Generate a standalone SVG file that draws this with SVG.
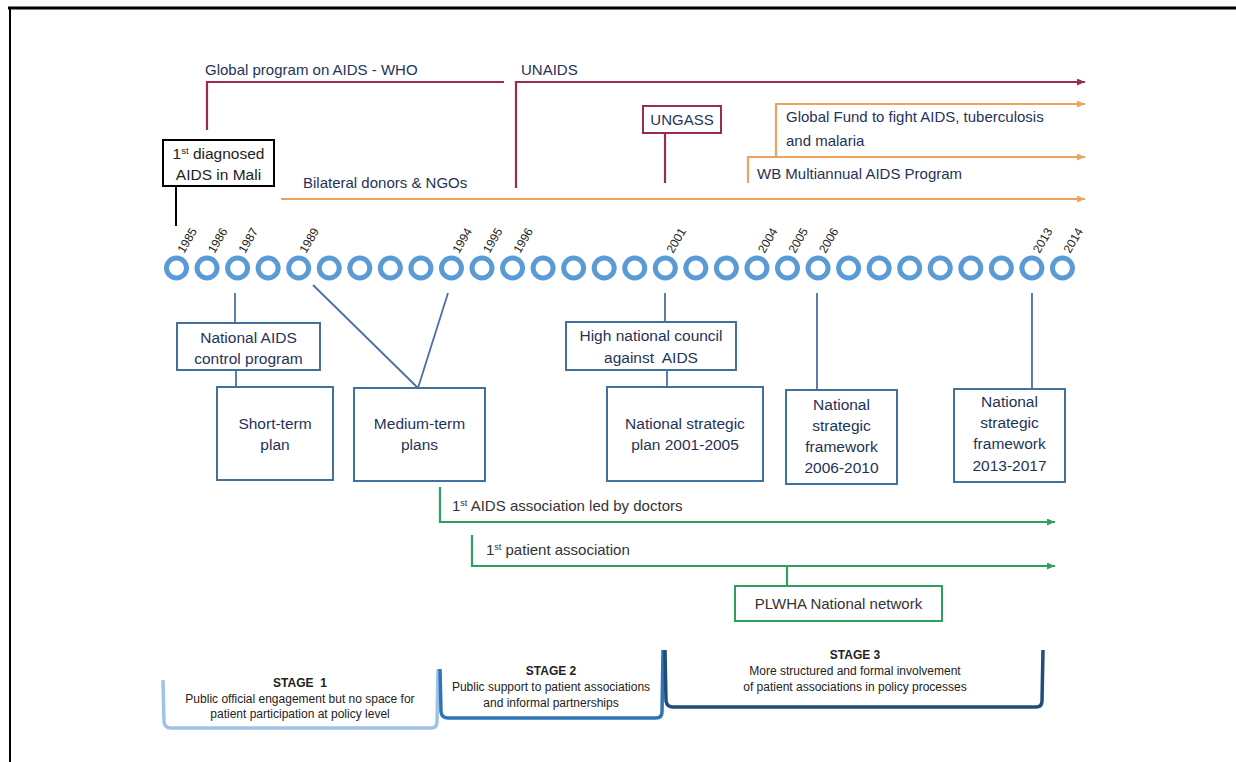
<svg xmlns="http://www.w3.org/2000/svg" width="1236" height="762" viewBox="0 0 1236 762">
  <defs>
    <marker id="arr-crimson" markerUnits="userSpaceOnUse" markerWidth="9" markerHeight="8" refX="8" refY="3.5" orient="auto">
      <path d="M0,0 L8,3.5 L0,7 z" fill="#9b2d4c"/>
    </marker>
    <marker id="arr-orange" markerUnits="userSpaceOnUse" markerWidth="9" markerHeight="8" refX="8" refY="3.5" orient="auto">
      <path d="M0,0 L8,3.5 L0,7 z" fill="#eda25f"/>
    </marker>
    <marker id="arr-green" markerUnits="userSpaceOnUse" markerWidth="9" markerHeight="8" refX="8" refY="3.5" orient="auto">
      <path d="M0,0 L8,3.5 L0,7 z" fill="#2ca05f"/>
    </marker>
  </defs>
  <style>
    text { font-family: "Liberation Sans", Arial, sans-serif; }
    .lbl { font-size: 15px; fill: #1f3357; }
    .bx { font-size: 15.5px; fill: #1f3357; text-anchor: middle; }
    .glbl { font-size: 15px; fill: #333; }
    .yr { font-size: 12px; fill: #222; }
    .stg { font-size: 12px; fill: #222; text-anchor: middle; }
    .stg-h { font-weight: bold; }
    .ring { fill: none; stroke: #5b9bd5; stroke-width: 5; }
    .box { fill: #fff; stroke: #41719c; stroke-width: 2; }
    .link { stroke: #4a6fa5; stroke-width: 1.8; fill: none; }
    .crimson { stroke: #9b2d4c; stroke-width: 2.2; fill: none; }
    .orange { stroke: #eda25f; stroke-width: 2.2; fill: none; }
    .green { stroke: #2ca05f; stroke-width: 2.2; fill: none; }
  </style>

  <rect width="1236" height="762" fill="#fff"/>

  <!-- outer frame -->
  <g id="frame">
    <line x1="8" y1="8" x2="1236" y2="8" stroke="#000" stroke-width="3"/>
    <line x1="10" y1="8" x2="10" y2="762" stroke="#000" stroke-width="2"/>
  </g>

  <!-- connectors -->
  <g id="connectors">
    <!-- international programmes -->
    <path class="crimson" d="M207,130 V82 H504"/>
    <path class="crimson" d="M516,188 V82 H1085" marker-end="url(#arr-crimson)"/>
    <line class="crimson" x1="665" y1="133" x2="665" y2="183"/>
    <path class="orange" d="M776,157 V104 H1085" marker-end="url(#arr-orange)"/>
    <path class="orange" d="M748,183 V157 H1085" marker-end="url(#arr-orange)"/>
    <line class="orange" x1="281" y1="199" x2="1085" y2="199" marker-end="url(#arr-orange)"/>
    <line x1="176" y1="186" x2="176" y2="226" stroke="#000" stroke-width="2"/>

    <!-- timeline to national plans -->
    <line class="link" x1="235" y1="293" x2="235" y2="323"/>
    <line class="link" x1="236" y1="370" x2="236" y2="387"/>
    <line class="link" x1="313" y1="285" x2="418" y2="388"/>
    <line class="link" x1="448" y1="293" x2="418" y2="388"/>
    <line class="link" x1="665" y1="293" x2="665" y2="322"/>
    <line class="link" x1="667" y1="370" x2="667" y2="387"/>
    <line class="link" x1="817" y1="293" x2="817" y2="390"/>
    <line class="link" x1="1032" y1="293" x2="1032" y2="389"/>

    <!-- civil society -->
    <path class="green" d="M440,487 V522 H1055" marker-end="url(#arr-green)"/>
    <path class="green" d="M472,535 V566 H1055" marker-end="url(#arr-green)"/>
    <line class="green" x1="787" y1="566" x2="787" y2="586"/>
  </g>

  <!-- labelled programme lines -->
  <g id="who-gpa"><text class="lbl" x="205" y="75">Global program on AIDS - WHO</text></g>
  <g id="unaids"><text class="lbl" x="521" y="75">UNAIDS</text></g>
  <g id="ungass">
    <rect x="643" y="106" width="78" height="27" fill="#fff" stroke="#9b2d4c" stroke-width="2"/>
    <text class="lbl" x="682" y="125" text-anchor="middle">UNGASS</text>
  </g>
  <g id="global-fund">
    <text class="lbl" x="786" y="122">Global Fund to fight AIDS, tuberculosis</text>
    <text class="lbl" x="786" y="146">and malaria</text>
  </g>
  <g id="wb-map"><text class="lbl" x="757" y="179">WB Multiannual AIDS Program</text></g>
  <g id="bilateral"><text class="lbl" x="303" y="188">Bilateral donors &amp; NGOs</text></g>
  <g id="first-case">
    <rect x="163" y="140" width="111" height="46" fill="#fff" stroke="#000" stroke-width="2"/>
    <text class="bx" x="218.5" y="159" style="fill:#222">1<tspan font-size="9.5" dy="-5.5">st</tspan><tspan dy="5.5"> diagnosed</tspan></text>
    <text class="bx" x="218.5" y="180" style="fill:#222">AIDS in Mali</text>
  </g>

  <!-- timeline 1985-2014 -->
  <g id="timeline">
    <circle class="ring" cx="176.5" cy="268" r="10"/>
    <circle class="ring" cx="207.05" cy="268" r="10"/>
    <circle class="ring" cx="237.6" cy="268" r="10"/>
    <circle class="ring" cx="268.15" cy="268" r="10"/>
    <circle class="ring" cx="298.7" cy="268" r="10"/>
    <circle class="ring" cx="329.25" cy="268" r="10"/>
    <circle class="ring" cx="359.8" cy="268" r="10"/>
    <circle class="ring" cx="390.35" cy="268" r="10"/>
    <circle class="ring" cx="420.9" cy="268" r="10"/>
    <circle class="ring" cx="451.45" cy="268" r="10"/>
    <circle class="ring" cx="482" cy="268" r="10"/>
    <circle class="ring" cx="512.55" cy="268" r="10"/>
    <circle class="ring" cx="543.1" cy="268" r="10"/>
    <circle class="ring" cx="573.65" cy="268" r="10"/>
    <circle class="ring" cx="604.2" cy="268" r="10"/>
    <circle class="ring" cx="634.75" cy="268" r="10"/>
    <circle class="ring" cx="665.3" cy="268" r="10"/>
    <circle class="ring" cx="695.85" cy="268" r="10"/>
    <circle class="ring" cx="726.4" cy="268" r="10"/>
    <circle class="ring" cx="756.95" cy="268" r="10"/>
    <circle class="ring" cx="787.5" cy="268" r="10"/>
    <circle class="ring" cx="818.05" cy="268" r="10"/>
    <circle class="ring" cx="848.6" cy="268" r="10"/>
    <circle class="ring" cx="879.15" cy="268" r="10"/>
    <circle class="ring" cx="909.7" cy="268" r="10"/>
    <circle class="ring" cx="940.25" cy="268" r="10"/>
    <circle class="ring" cx="970.8" cy="268" r="10"/>
    <circle class="ring" cx="1001.35" cy="268" r="10"/>
    <circle class="ring" cx="1031.9" cy="268" r="10"/>
    <circle class="ring" cx="1062.45" cy="268" r="10"/>

    <text class="yr" transform="translate(184,254) rotate(-60)">1985</text>
    <text class="yr" transform="translate(214.5,254) rotate(-60)">1986</text>
    <text class="yr" transform="translate(245,254) rotate(-60)">1987</text>
    <text class="yr" transform="translate(306,254) rotate(-60)">1989</text>
    <text class="yr" transform="translate(459,254) rotate(-60)">1994</text>
    <text class="yr" transform="translate(489.5,254) rotate(-60)">1995</text>
    <text class="yr" transform="translate(520,254) rotate(-60)">1996</text>
    <text class="yr" transform="translate(673,254) rotate(-60)">2001</text>
    <text class="yr" transform="translate(764.5,254) rotate(-60)">2004</text>
    <text class="yr" transform="translate(795,254) rotate(-60)">2005</text>
    <text class="yr" transform="translate(825.5,254) rotate(-60)">2006</text>
    <text class="yr" transform="translate(1039.5,254) rotate(-60)">2013</text>
    <text class="yr" transform="translate(1070,254) rotate(-60)">2014</text>
  </g>

  <!-- national response -->
  <g id="nacp">
    <rect class="box" x="177" y="323" width="143" height="47"/>
    <text class="bx" x="248.5" y="343">National AIDS</text>
    <text class="bx" x="248.5" y="364">control program</text>
  </g>
  <g id="short-term">
    <rect class="box" x="217" y="387" width="116" height="93"/>
    <text class="bx" x="275" y="429">Short-term</text>
    <text class="bx" x="275" y="450">plan</text>
  </g>
  <g id="medium-term">
    <rect class="box" x="354" y="388" width="131" height="93"/>
    <text class="bx" x="419.5" y="429">Medium-term</text>
    <text class="bx" x="419.5" y="450">plans</text>
  </g>
  <g id="hnc">
    <rect class="box" x="566" y="322" width="170" height="48"/>
    <text class="bx" x="651" y="341">High national council</text>
    <text class="bx" x="651" y="363" xml:space="preserve">against  AIDS</text>
  </g>
  <g id="nsp-2001">
    <rect class="box" x="607" y="387" width="156" height="94"/>
    <text class="bx" x="685" y="429">National strategic</text>
    <text class="bx" x="685" y="450">plan 2001-2005</text>
  </g>
  <g id="nsf-2006">
    <rect class="box" x="786" y="390" width="111" height="94"/>
    <text class="bx" x="841.5" y="410">National</text>
    <text class="bx" x="841.5" y="431">strategic</text>
    <text class="bx" x="841.5" y="452">framework</text>
    <text class="bx" x="841.5" y="473">2006-2010</text>
  </g>
  <g id="nsf-2013">
    <rect class="box" x="954" y="389" width="111" height="93"/>
    <text class="bx" x="1009.5" y="407">National</text>
    <text class="bx" x="1009.5" y="428">strategic</text>
    <text class="bx" x="1009.5" y="449">framework</text>
    <text class="bx" x="1009.5" y="471">2013-2017</text>
  </g>

  <!-- associations -->
  <g id="assoc-doctors">
    <text class="glbl" x="452" y="511">1<tspan font-size="9" dy="-5.5">st</tspan><tspan dy="5.5"> AIDS association led by doctors</tspan></text>
  </g>
  <g id="assoc-patients">
    <text class="glbl" x="486" y="555">1<tspan font-size="9" dy="-5.5">st</tspan><tspan dy="5.5"> patient association</tspan></text>
  </g>
  <g id="plwha">
    <rect x="735" y="586" width="207" height="35" fill="#fff" stroke="#2ca05f" stroke-width="2"/>
    <text class="glbl" x="838.5" y="609" text-anchor="middle">PLWHA National network</text>
  </g>

  <!-- stages -->
  <g id="stage-1">
    <path d="M163,680 L164,722 Q165,728 171,728 L431,728 Q437,728 437,722 L438,669" fill="none" stroke="#9dc3e6" stroke-width="3.5"/>
    <text class="stg stg-h" x="300" y="687" xml:space="preserve">STAGE  1</text>
    <text class="stg" x="300" y="703">Public official engagement but no space for</text>
    <text class="stg" x="300" y="718">patient participation at policy level</text>
  </g>
  <g id="stage-2">
    <path d="M440,669 L441,712 Q442,718 448,718 L656,718 Q662,718 662,712 L663,650" fill="none" stroke="#2e75b6" stroke-width="3.5"/>
    <text class="stg stg-h" x="551" y="675">STAGE 2</text>
    <text class="stg" x="551" y="691">Public support to patient associations</text>
    <text class="stg" x="551" y="707">and informal partnerships</text>
  </g>
  <g id="stage-3">
    <path d="M665,650 L666,701 Q667,707 673,707 L1036,707 Q1042,707 1042,701 L1043,650" fill="none" stroke="#1f4e79" stroke-width="3.5"/>
    <text class="stg stg-h" x="855" y="659">STAGE 3</text>
    <text class="stg" x="855" y="675">More structured and formal involvement</text>
    <text class="stg" x="855" y="691">of patient associations in policy processes</text>
  </g>
</svg>
